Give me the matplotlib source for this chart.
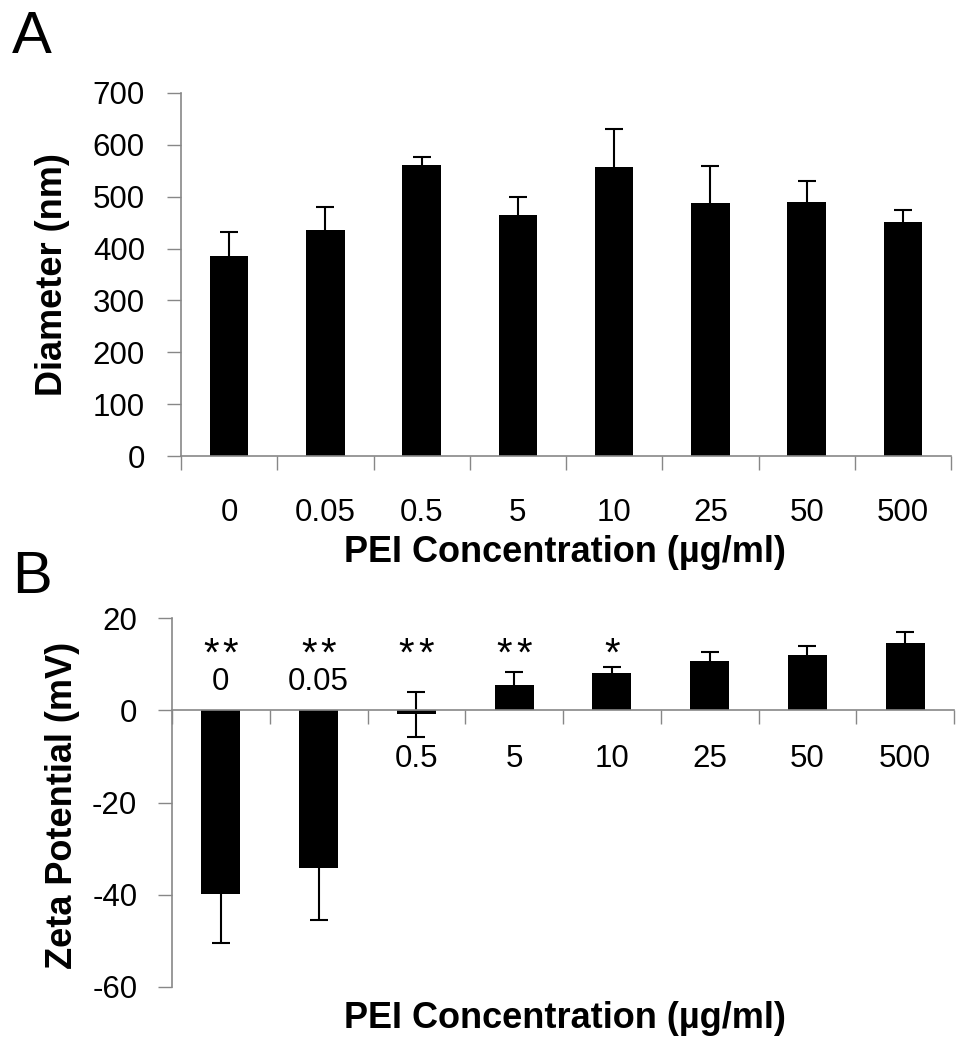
import numpy as np
import matplotlib.pyplot as plt

plt.rcParams['font.family'] = ['Liberation Sans', 'DejaVu Sans']
plt.rcParams['axes.unicode_minus'] = False

# dados
concentracoes = ["0", "0.05", "0.5", "5", "10", "25", "50", "500"]
diametro = [385, 436, 561, 465, 557, 487, 490, 452]
diametro_erro = [47, 44, 15, 34, 73, 73, 41, 22]
zeta = [-39.8, -34.3, -0.9, 5.4, 8.0, 10.6, 11.9, 14.5]
zeta_erro = [10.6, 11.2, 4.8, 2.9, 1.4, 2.1, 2.1, 2.4]
significancia = [2, 2, 2, 2, 1, 0, 0, 0]  # numero de asteriscos

cinza = "#878787"
tam_tick = 22.5
tam_label = 26

fig = plt.figure(figsize=(9.57, 10.5), dpi=100)
W, H = 957, 1050

x = np.arange(len(concentracoes))
erro_kw = dict(ecolor="black", elinewidth=1.5, capsize=6.5, capthick=1.5)

# ---- painel A ----
axA = fig.add_axes([181 / W, 1 - 456 / H, 770 / W, 363 / H])
axA.bar(x, diametro, width=0.4, color="black", yerr=diametro_erro, error_kw=erro_kw)
axA.set_xlim(-0.5, len(x) - 0.5)
axA.set_ylim(0, 700)
axA.set_yticks(range(0, 701, 100))
axA.set_xticks(x)
axA.set_xticklabels(concentracoes)
axA.set_xticks(np.arange(-0.5, len(x)), minor=True)
axA.tick_params(axis="x", which="major", length=0, pad=30, labelsize=tam_tick)
axA.tick_params(axis="x", which="minor", length=10, color=cinza, width=1)
axA.tick_params(axis="y", length=10, color=cinza, width=1, pad=16, labelsize=tam_tick)
for lado in ["top", "right"]:
    axA.spines[lado].set_visible(False)
for lado in ["left", "bottom"]:
    axA.spines[lado].set_color(cinza)
    axA.spines[lado].set_linewidth(1.2)

fig.text(53 / W, 1 - 275 / H, "Diameter (nm)", rotation=90, ha="center", va="center",
         fontsize=tam_label, fontweight="bold")
fig.text(565 / W, 1 - 562 / H, "PEI Concentration (\u00b5g/ml)", ha="center", va="baseline",
         fontsize=tam_label, fontweight="bold")
fig.text(12 / W, 1 - 53 / H, "A", fontsize=43, va="baseline")

# ---- painel B ----
axB = fig.add_axes([172 / W, 1 - 987 / H, 782 / W, 369 / H])
axB.bar(x, zeta, width=0.4, color="black", yerr=zeta_erro, error_kw=erro_kw)
axB.set_xlim(-0.5, len(x) - 0.5)
axB.set_ylim(-60, 20)
axB.set_yticks(range(-60, 21, 20))
axB.set_xticks(np.arange(-0.5, len(x)))
axB.set_xticklabels([])
axB.tick_params(axis="x", length=10, color=cinza, width=1)
axB.tick_params(axis="y", length=10, color=cinza, width=1, pad=15, labelsize=tam_tick)
axB.spines["bottom"].set_position(("data", 0))
for lado in ["top", "right"]:
    axB.spines[lado].set_visible(False)
for lado in ["left", "bottom"]:
    axB.spines[lado].set_color(cinza)
    axB.spines[lado].set_linewidth(1.2)

for i, (rot, v, n) in enumerate(zip(concentracoes, zeta, significancia)):
    y_rot = 4.3 if v < -5 else -12.2
    axB.text(i, y_rot, rot, ha="center", va="baseline", fontsize=tam_tick)
    if n == 2:
        posicoes = [i - 0.1, i + 0.1]
    elif n == 1:
        posicoes = [i]
    else:
        posicoes = []
    for p in posicoes:
        axB.text(p, 9.7, "*", ha="center", va="baseline", fontsize=29)

fig.text(63 / W, 1 - 805 / H, "Zeta Potential (mV)", rotation=90, ha="center", va="center",
         fontsize=tam_label, fontweight="bold")
fig.text(565 / W, 1 - 1028 / H, "PEI Concentration (\u00b5g/ml)", ha="center", va="baseline",
         fontsize=tam_label, fontweight="bold")
fig.text(12 / W, 1 - 593 / H, "B", fontsize=43, va="baseline")

fig.savefig("out.png", dpi=100)
